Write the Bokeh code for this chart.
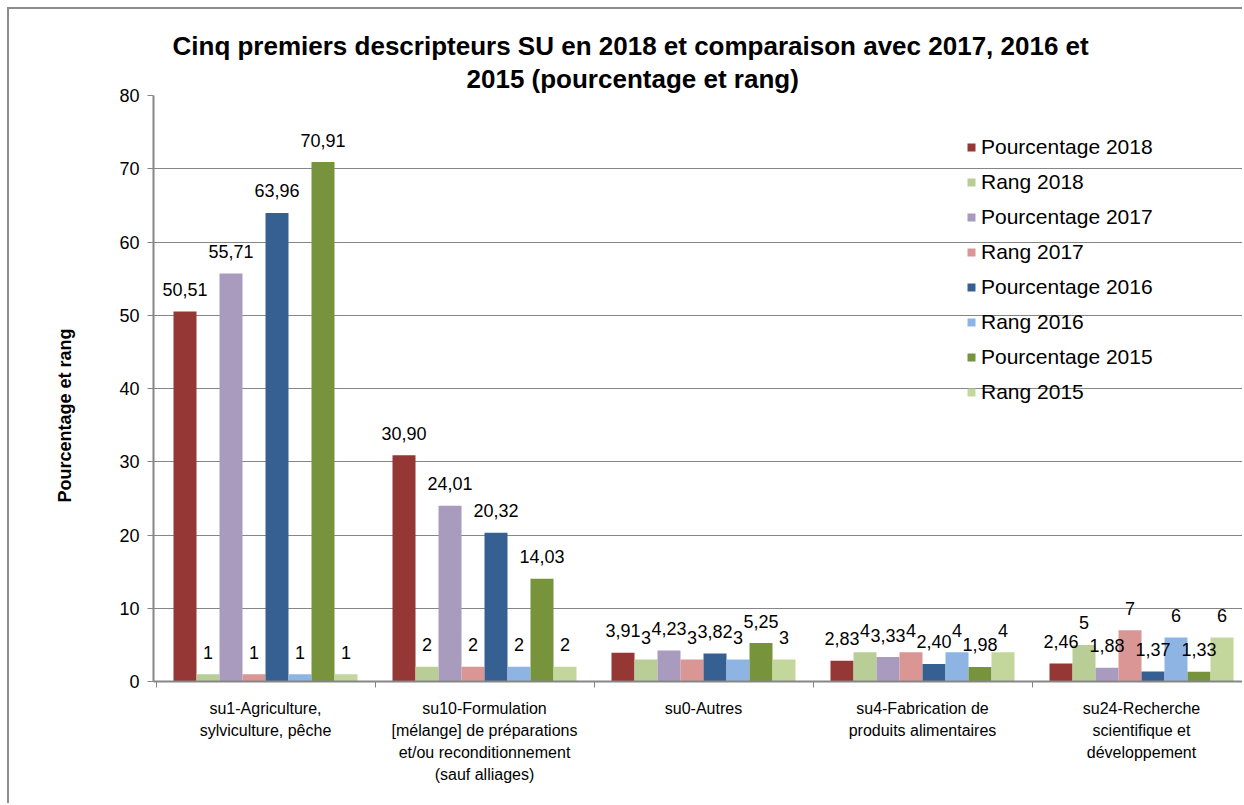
from bokeh.plotting import figure
from bokeh.models import (ColumnDataSource, Range1d, FixedTicker, LabelSet,
                          Legend, LegendItem, Title)
from bokeh.core.properties import value
from bokeh.embed import file_html
from bokeh.resources import INLINE

categories = [
    "su1-Agriculture,\nsylviculture, pêche",
    "su10-Formulation\n[mélange] de préparations\net/ou reconditionnement\n(sauf alliages)",
    "su0-Autres",
    "su4-Fabrication de\nproduits alimentaires",
    "su24-Recherche\nscientifique et\ndéveloppement",
]
series_names = ["Pourcentage 2018", "Rang 2018", "Pourcentage 2017", "Rang 2017",
                "Pourcentage 2016", "Rang 2016", "Pourcentage 2015", "Rang 2015"]
pct_2018 = [50.51, 30.90, 3.91, 2.83, 2.46]
rang_2018 = [1, 2, 3, 4, 5]
pct_2017 = [55.71, 24.01, 4.23, 3.33, 1.88]
rang_2017 = [1, 2, 3, 4, 7]
pct_2016 = [63.96, 20.32, 3.82, 2.40, 1.37]
rang_2016 = [1, 2, 3, 4, 6]
pct_2015 = [70.91, 14.03, 5.25, 1.98, 1.33]
rang_2015 = [1, 2, 3, 4, 6]
series_values = [pct_2018, rang_2018, pct_2017, rang_2017, pct_2016, rang_2016, pct_2015, rang_2015]
colors = ["#953735", "#B9CD96", "#A99BBD", "#D99694", "#366092", "#8EB4E3", "#77933C", "#C3D69B"]
y_ticks = [0, 10, 20, 30, 40, 50, 60, 70, 80]
title_line1 = "Cinq premiers descripteurs SU en 2018 et comparaison avec 2017, 2016 et"
title_line2 = "2015 (pourcentage et rang)"
y_title = "Pourcentage et rang"

FONT = "Liberation Sans"
GROUP_PX = 219.0
BAR_PX = 23.0
OX, OY = 9, 9                     # canvas offset inside the bordered box
W, H = 1244 - OX, 805 - OY
FRAME_LEFT = 153 - OX
FRAME_TOP = 95 - OY
FRAME_BOTTOM = 681 - OY

x_start = 0.5 - 2.5 / GROUP_PX
x_end = x_start + (W - FRAME_LEFT) / GROUP_PX

p = figure(width=W, height=H, output_backend="svg", toolbar_location=None,
           x_range=Range1d(x_start, x_end), y_range=Range1d(0, 80),
           min_border_left=FRAME_LEFT, min_border_right=0,
           min_border_top=FRAME_TOP, min_border_bottom=H - FRAME_BOTTOM,
           styles={"margin-left": "7px", "margin-top": "7px",
                   "border-left": "2px solid #8c8c8c", "border-top": "2px solid #8c8c8c"})
p.outline_line_color = None
p.background_fill_color = "white"
p.border_fill_color = "white"

bw = BAR_PX / GROUP_PX
centers = list(range(1, len(categories) + 1))
legend_items = []
for i, (name, vals, col) in enumerate(zip(series_names, series_values, colors)):
    xs = [c + (i - 3.5) * bw for c in centers]
    if name.startswith("Pourcentage"):
        labels = [("%.2f" % v).replace(".", ",") for v in vals]
    else:
        labels = [str(v) for v in vals]
    src = ColumnDataSource(dict(x=xs, top=vals, label=labels))
    r = p.vbar(x="x", top="top", width=bw, source=src, fill_color=col, line_color=None)
    legend_items.append(LegendItem(label=name, renderers=[r]))
    p.add_layout(LabelSet(x="x", y="top", text="label", source=src, text_align="center",
                          text_baseline="middle", y_offset=22, text_font=value(FONT),
                          text_font_size="18px", text_color="black"))

# axes
p.xaxis.ticker = FixedTicker(ticks=centers, minor_ticks=[c - 0.5 for c in centers] + [centers[-1] + 0.5])
p.xaxis.major_label_overrides = {c: cat for c, cat in zip(centers, categories)}
p.xaxis.major_tick_out = 0
p.xaxis.major_tick_in = 0
p.xaxis.minor_tick_out = 6
p.xaxis.minor_tick_in = 0
p.xaxis.minor_tick_line_color = "#868686"
p.xaxis.axis_line_color = "#868686"
p.xaxis.axis_line_width = 2
p.xaxis.major_label_text_font = FONT
p.xaxis.major_label_text_font_size = "16px"
p.xaxis.major_label_text_color = "black"
p.xaxis.major_label_text_line_height = 1.3
p.xaxis.major_label_standoff = 12
p.xgrid.grid_line_color = None

p.yaxis.ticker = FixedTicker(ticks=y_ticks)
p.yaxis.minor_tick_line_color = None
p.yaxis.major_tick_out = 6
p.yaxis.major_tick_in = 0
p.yaxis.major_tick_line_color = "#868686"
p.yaxis.axis_line_color = "#868686"
p.yaxis.axis_line_width = 2
p.yaxis.major_label_text_font = FONT
p.yaxis.major_label_text_font_size = "18px"
p.yaxis.major_label_text_color = "black"
p.yaxis.major_label_standoff = 8
p.ygrid.grid_line_color = "#868686"
p.ygrid.grid_line_width = 1

legend = Legend(items=legend_items, location=(966 - 153, 681 - 404),
                orientation="vertical", padding=0, margin=0, spacing=11,
                glyph_width=10, glyph_height=10, label_height=24, label_standoff=5,
                label_text_font=FONT, label_text_font_size="21px", label_text_color="black",
                background_fill_alpha=0, border_line_color=None)
p.add_layout(legend, "center")

# title lines (nearest to frame first)
p.add_layout(Title(text=title_line2, align="left", offset=313, text_font=FONT,
                   text_font_size="26px", text_font_style="bold", text_color="black",
                   standoff=3), "above")
p.add_layout(Title(text=title_line1, align="left", offset=19, text_font=FONT,
                   text_font_size="26px", text_font_style="bold", text_color="black",
                   standoff=0), "above")
# y-axis title
p.add_layout(Title(text=y_title, align="left", offset=179, text_font=FONT,
                   text_font_size="18px", text_font_style="bold", text_color="black",
                   standoff=83), "left")

open("out.html", "w").write(file_html(p, INLINE))
